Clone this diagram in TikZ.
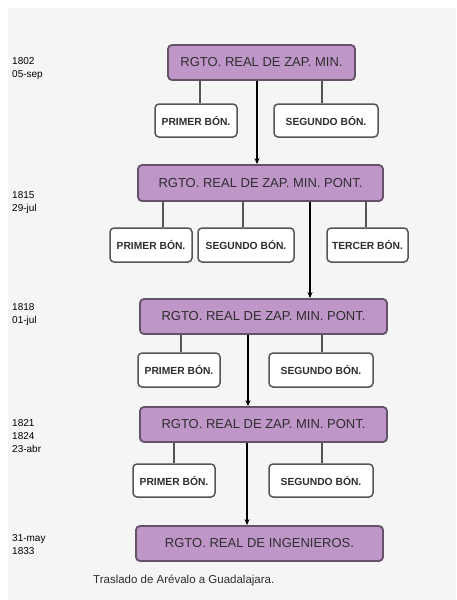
\documentclass[tikz,border=0pt]{standalone}
\usepackage{fontspec}
\setmainfont{Liberation Sans}
\usetikzlibrary{arrows.meta}
\definecolor{bggray}{HTML}{F5F5F5}
\definecolor{regfill}{HTML}{BF96C8}
\definecolor{regdraw}{HTML}{645268}
\definecolor{bondraw}{HTML}{555555}
\definecolor{txt}{HTML}{2E2E2E}
\tikzset{
  reg/.style={draw=regdraw, line width=1.8pt, fill=regfill, rounded corners=4pt,
    inner sep=0pt, minimum height=35pt, minimum width=247pt,
    font=\fontsize{13}{15}\selectfont, text=txt},
  bon/.style={draw=bondraw, line width=1.5pt, fill=white, rounded corners=4pt,
    inner sep=0pt, minimum height=33pt, minimum width=82pt,
    font=\fontsize{10.3}{12}\selectfont\bfseries, text=txt},
  link/.style={draw=bondraw, line width=1.5pt},
  arr/.style={draw=black, line width=1.4pt, -{Stealth[length=6pt,width=5pt]}},
  date/.style={anchor=base west, inner sep=0pt, align=left,
    font=\fontsize{10}{13}\selectfont, text=black}
}
\begin{document}
\begin{tikzpicture}[x=1pt, y=-1pt]
\useasboundingbox (0,0) rectangle (456,600);
\fill[white] (0,0) rectangle (456,600);
\fill[bggray] (8,8) rectangle (456,600);

% regiments
\node[reg, minimum width=187pt] (b1) at (261.5,62.5) {RGTO. REAL DE ZAP. MIN.};
\node[reg, minimum width=245pt, minimum height=36pt] (b2) at (260.5,183) {RGTO. REAL DE ZAP. MIN. PONT.};
\node[reg] (b3) at (263.5,316.5) {RGTO. REAL DE ZAP. MIN. PONT.};
\node[reg] (b4) at (263.5,424.5) {RGTO. REAL DE ZAP. MIN. PONT.};
\node[reg] (b5) at (259.5,543.5) {RGTO. REAL DE INGENIEROS.};

% battalions
\node[bon] (p1) at (196,120.5) {PRIMER BÓN.};
\node[bon, minimum width=104pt] (s1) at (326,120.5) {SEGUNDO BÓN.};
\node[bon, minimum height=34pt] (p2) at (151,245) {PRIMER BÓN.};
\node[bon, minimum height=34pt, minimum width=96pt] (s2) at (246,245) {SEGUNDO BÓN.};
\node[bon, minimum height=34pt, minimum width=81pt] (t2) at (367.5,245) {TERCER BÓN.};
\node[bon, minimum height=34pt] (p3) at (179,370) {PRIMER BÓN.};
\node[bon, minimum height=34pt, minimum width=104pt] (s3) at (321,370) {SEGUNDO BÓN.};
\node[bon] (p4) at (174,480.5) {PRIMER BÓN.};
\node[bon, minimum width=104pt] (s4) at (321,480.5) {SEGUNDO BÓN.};

% links to battalions
\draw[link] ([xshift=4pt]p1.north) -- ([xshift=4pt]p1.north |- b1.south);
\draw[link] ([xshift=-4pt]s1.north) -- ([xshift=-4pt]s1.north |- b1.south);
\draw[link] ([xshift=12pt]p2.north) -- ([xshift=12pt]p2.north |- b2.south);
\draw[link] ([xshift=-3pt]s2.north) -- ([xshift=-3pt]s2.north |- b2.south);
\draw[link] ([xshift=-1.5pt]t2.north) -- ([xshift=-1.5pt]t2.north |- b2.south);
\draw[link] ([xshift=2pt]p3.north) -- ([xshift=2pt]p3.north |- b3.south);
\draw[link] ([xshift=1pt]s3.north) -- ([xshift=1pt]s3.north |- b3.south);
\draw[link] (p4.north) -- (p4.north |- b4.south);
\draw[link] ([xshift=1pt]s4.north) -- ([xshift=1pt]s4.north |- b4.south);

% succession arrows
\coordinate (a1) at (257,0);
\coordinate (a2) at (310,0);
\coordinate (a3) at (248,0);
\coordinate (a4) at (247,0);
\draw[arr] (b1.south -| a1) -- (b2.north -| a1);
\draw[arr] (b2.south -| a2) -- (b3.north -| a2);
\draw[arr] (b3.south -| a3) -- (b4.north -| a3);
\draw[arr] (b4.south -| a4) -- (b5.north -| a4);

% dates
\node[date] (d1) at (12,77) {1802\\05-sep};
\node[date] (d2) at (12,211) {1815\\29-jul};
\node[date] (d3) at (12,323) {1818\\01-jul};
\node[date] (d4) at (12,452) {1821\\1824\\23-abr};
\node[date] (d5) at (12,554) {31-may\\1833};

\node[anchor=base west, inner sep=0pt, font=\fontsize{11.5}{13}\selectfont, text=txt] (cap) at (93,583) {Traslado de Arévalo a Guadalajara.};
\end{tikzpicture}
\end{document}
